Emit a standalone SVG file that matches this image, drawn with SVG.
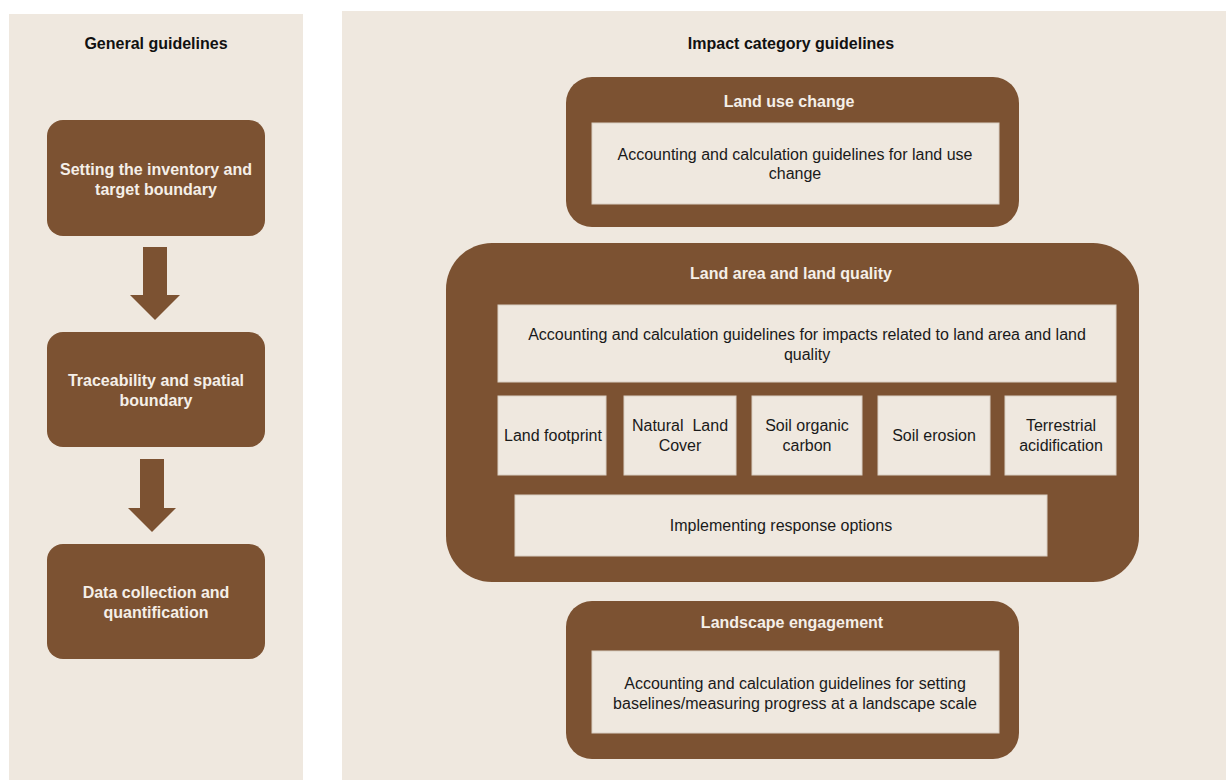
<svg xmlns="http://www.w3.org/2000/svg" width="1226" height="780" viewBox="0 0 1226 780">
  <style>
    .panel { fill: #EFE8DF; }
    .brown { fill: #7C5232; }
    .inner { fill: #EFE8DF; stroke: #D9CFC3; stroke-width: 1; }
    .head { font-family: "Liberation Sans", Arial, sans-serif; font-size: 16px; font-weight: bold; fill: #111; text-anchor: middle; }
    .wt { font-family: "Liberation Sans", Arial, sans-serif; font-size: 16px; font-weight: bold; fill: #F5EFE8; text-anchor: middle; }
    .t { font-family: "Liberation Sans", Arial, sans-serif; font-size: 16px; fill: #1A1A1A; text-anchor: middle; }
  </style>
  <rect width="1226" height="780" fill="#FFFFFF"/>

  <!-- Left column: general guidelines -->
  <g id="general-panel">
    <rect class="panel" x="9" y="14" width="294" height="766"/>
    <text class="head" x="156" y="49">General guidelines</text>
  </g>
  <g id="inventory-boundary">
    <rect class="brown" x="47" y="120" width="218" height="116" rx="16"/>
    <text class="wt" x="156" y="175">Setting the inventory and</text>
    <text class="wt" x="156" y="195">target boundary</text>
  </g>
  <g id="traceability">
    <rect class="brown" x="47" y="332" width="218" height="115" rx="16"/>
    <text class="wt" x="156" y="386">Traceability and spatial</text>
    <text class="wt" x="156" y="406">boundary</text>
  </g>
  <g id="data-collection">
    <rect class="brown" x="47" y="544" width="218" height="115" rx="16"/>
    <text class="wt" x="156" y="598">Data collection and</text>
    <text class="wt" x="156" y="618">quantification</text>
  </g>
  <g id="connectors">
    <polygon class="brown" points="143,247 167,247 167,295 180,295 155,320 130,295 143,295"/>
    <polygon class="brown" points="140,459 164,459 164,508 176,508 152,532 128,508 140,508"/>
  </g>

  <!-- Right column: impact category guidelines -->
  <g id="impact-panel">
    <rect class="panel" x="342" y="11" width="884" height="769"/>
    <text class="head" x="791" y="49">Impact category guidelines</text>
  </g>
  <g id="land-use-change">
    <rect class="brown" x="566" y="77" width="453" height="150" rx="26"/>
    <text class="wt" x="789" y="107">Land use change</text>
    <rect class="inner" x="592" y="123" width="407" height="81"/>
    <text class="t" x="795" y="160">Accounting and calculation guidelines for land use</text>
    <text class="t" x="795" y="179">change</text>
  </g>
  <g id="land-area-quality">
    <rect class="brown" x="446" y="243" width="693" height="339" rx="46"/>
    <text class="wt" x="791" y="279">Land area and land quality</text>
    <rect class="inner" x="498" y="305" width="618" height="77"/>
    <text class="t" x="807" y="340">Accounting and calculation guidelines for impacts related to land area and land</text>
    <text class="t" x="807" y="360">quality</text>
  </g>
  <g id="land-footprint">
    <rect class="inner" x="498" y="396" width="108" height="79"/>
    <text class="t" x="553" y="441">Land footprint</text>
  </g>
  <g id="natural-land-cover">
    <rect class="inner" x="624" y="396" width="112" height="79"/>
    <text class="t" x="680" y="431">Natural&#160; Land</text>
    <text class="t" x="680" y="451">Cover</text>
  </g>
  <g id="soil-organic-carbon">
    <rect class="inner" x="752" y="396" width="110" height="79"/>
    <text class="t" x="807" y="431">Soil organic</text>
    <text class="t" x="807" y="451">carbon</text>
  </g>
  <g id="soil-erosion">
    <rect class="inner" x="878" y="396" width="112" height="79"/>
    <text class="t" x="934" y="441">Soil erosion</text>
  </g>
  <g id="terrestrial-acidification">
    <rect class="inner" x="1005" y="396" width="111" height="79"/>
    <text class="t" x="1061" y="431">Terrestrial</text>
    <text class="t" x="1061" y="451">acidification</text>
  </g>
  <g id="response-options">
    <rect class="inner" x="515" y="495" width="532" height="61"/>
    <text class="t" x="781" y="531">Implementing response options</text>
  </g>
  <g id="landscape-engagement">
    <rect class="brown" x="566" y="601" width="453" height="158" rx="26"/>
    <text class="wt" x="792" y="628">Landscape engagement</text>
    <rect class="inner" x="592" y="651" width="407" height="82"/>
    <text class="t" x="795" y="689">Accounting and calculation guidelines for setting</text>
    <text class="t" x="795" y="709">baselines/measuring progress at a landscape scale</text>
  </g>
</svg>
